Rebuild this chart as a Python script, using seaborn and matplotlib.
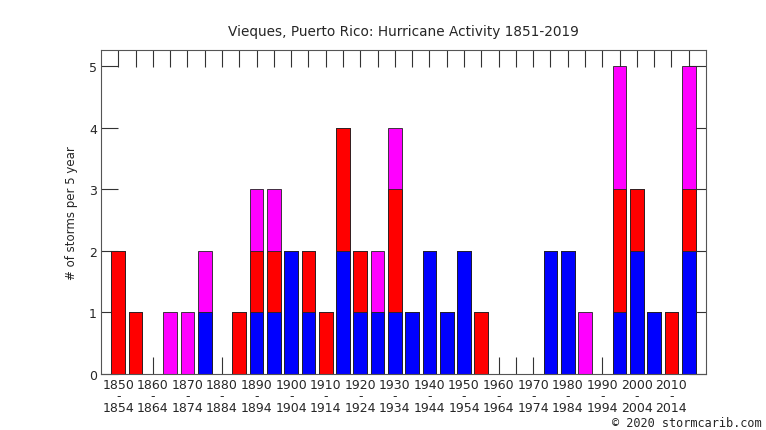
#!/usr/bin/env python3
import matplotlib
matplotlib.use('Agg')
import matplotlib.pyplot as plt
import seaborn as sns
import pandas as pd
import numpy as np

# 5-year periods starting 1850
starts = list(range(1850, 2020, 5))
tropical = [0, 0, 0, 0, 0, 1, 0, 0, 1, 1, 2, 1, 0, 2, 1, 1, 1,
            1, 2, 1, 2, 0, 0, 0, 0, 2, 2, 0, 0, 1, 2, 1, 0, 2]
hurricane = [2, 1, 0, 0, 0, 0, 0, 1, 1, 1, 0, 1, 1, 2, 1, 0, 2,
             0, 0, 0, 0, 1, 0, 0, 0, 0, 0, 0, 0, 2, 1, 0, 1, 1]
major = [0, 0, 0, 1, 1, 1, 0, 0, 1, 1, 0, 0, 0, 0, 0, 1, 1,
         0, 0, 0, 0, 0, 0, 0, 0, 0, 0, 1, 0, 2, 0, 0, 0, 2]

df = pd.DataFrame({'period': [str(s) for s in starts],
                   'blue': tropical,
                   'red': hurricane,
                   'magenta': major})
df['lvl2'] = df['blue'] + df['red']
df['lvl3'] = df['lvl2'] + df['magenta']

sns.set_style('white')
plt.rcParams['font.family'] = ['DejaVu Sans']

fig = plt.figure(figsize=(7.66, 4.31), dpi=100)
ax = fig.add_axes([101 / 766, 1 - 375 / 431, 605 / 766, 324 / 431])

# stacked look: draw the totals first, then overlay the lower parts
order = df['period'].tolist()
for col, c in [('lvl3', '#ff00ff'), ('lvl2', '#ff0000'), ('blue', '#0000ff')]:
    sub = df[df[col] > 0]
    sns.barplot(data=sub, x='period', y=col, order=order, color=c, saturation=1,
                width=0.8, edgecolor='#222222', linewidth=0.6, ax=ax)

ax.set_xlim(-1, len(starts))
ax.set_ylim(0, 5.26)
ax.set_yticks([0, 1, 2, 3, 4, 5])
ax.set_xticks(range(len(starts)))
labels = [f'{s}\n-\n{s + 4}' if i % 2 == 0 else '' for i, s in enumerate(starts)]
ax.set_xticklabels(labels, fontsize=9, linespacing=0.82)
ax.tick_params(axis='y', labelsize=9)
ax.tick_params(direction='in', length=12, width=0.8, color='#333333',
               top=True, right=True, bottom=True, left=True, pad=3)
ax.set_xlabel('')
ax.set_ylabel('# of storms per 5 year', fontsize=8.5, labelpad=8)
for s in ax.spines.values():
    s.set_color('#555555')
    s.set_linewidth(0.8)

ax.set_title('Vieques, Puerto Rico: Hurricane Activity 1851-2019', fontsize=9.8, pad=11)
fig.text(762 / 766, 1 - 424 / 431, '\u00a9 2020 stormcarib.com', ha='right', va='center',
         fontsize=8.6, family='DejaVu Sans Mono')

fig.savefig('out.png', dpi=100)
